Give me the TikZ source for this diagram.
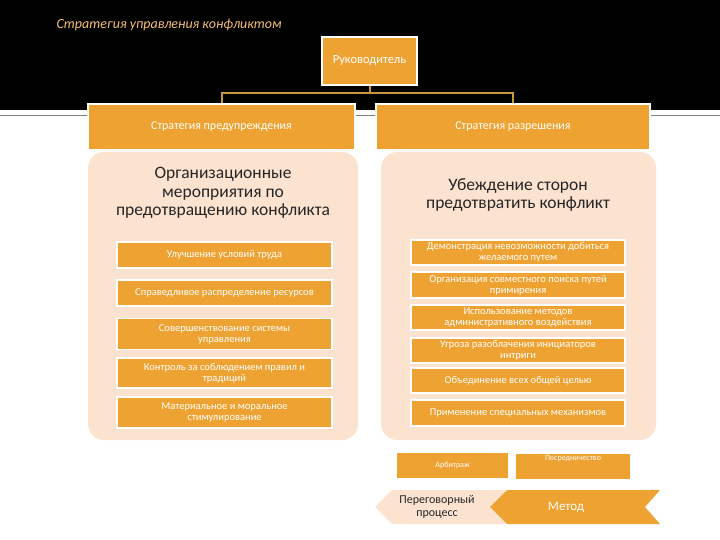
\documentclass[tikz,border=0pt]{standalone}
\usepackage{fontspec}
\setmainfont{Carlito}
\begin{document}
\begin{tikzpicture}[x=1pt,y=-1pt,
 ob/.style={fill=orB,draw=white,line width=1.5pt,text=white,align=center,font=\fontsize{12}{13}\selectfont,inner sep=1pt},
 it/.style={fill=orB,draw=white,line width=1.5pt,text=white,align=center,font=\fontsize{10.5}{11}\selectfont,inner sep=1pt},
 panel/.style={fill=peach,rounded corners=16pt},
 hd/.style={align=center,text=black!85,font=\fontsize{17.5}{18.5}\selectfont},
 con/.style={draw=tanC,line width=2pt}]
\definecolor{orB}{HTML}{EDA232}
\definecolor{peach}{HTML}{FBE3D0}
\definecolor{tanC}{HTML}{C8963C}
\useasboundingbox (0,0) rectangle (720,540);
\fill[black] (0,0) rectangle (720,110);
\draw[gray,line width=1pt] (0,116) -- (720,116);
\node[anchor=west,text=orB!70!white,font=\itshape\fontsize{14}{16}\selectfont] (t) at (53,25) {Стратегия управления конфликтом};
% panels
\path[panel] (88,152) rectangle (358,440);
\path[panel] (381,152) rectangle (656,440);
% top node
\node[ob,minimum width=95pt,minimum height=48pt,font=\fontsize{12.5}{14}\selectfont] (r) at (369.5,61) {Руководитель};
\node[ob,minimum width=267pt,minimum height=46pt] (sl) at (221.5,127) {Стратегия предупреждения};
\node[ob,minimum width=274pt,minimum height=46pt] (sr) at (513,127) {Стратегия разрешения};
\coordinate (m) at (369.5,93);
\draw[con] (r.south) -- (m) -| (sl.north);
\draw[con] (m) -| (sr.north);
% headers
\node[hd] (hl) at (223,193) {Организационные\\мероприятия по\\предотвращению конфликта};
\node[hd] (hr) at (518,195) {Убеждение сторон\\предотвратить конфликт};
% left items
\node[it,minimum width=215pt,minimum height=26pt] (l1) at (224.5,255) {Улучшение условий труда};
\node[it,minimum width=215pt,minimum height=26pt] (l2) at (224.5,293) {Справедливое распределение ресурсов};
\node[it,minimum width=215pt,minimum height=31pt] (l3) at (224.5,334) {Совершенствование системы\\управления};
\node[it,minimum width=215pt,minimum height=30pt] (l4) at (224.5,373) {Контроль за соблюдением правил и\\традиций};
\node[it,minimum width=215pt,minimum height=31pt] (l5) at (224.5,412.5) {Материальное и моральное\\стимулирование};
% right items
\node[it,minimum width=214pt,minimum height=25pt] (r1) at (518,252.5) {Демонстрация невозможности добиться\\желаемого путем};
\node[it,minimum width=214pt,minimum height=26pt] (r2) at (518,285) {Организация совместного поиска путей\\примирения};
\node[it,minimum width=214pt,minimum height=25pt] (r3) at (518,317.5) {Использование методов\\административного воздействия};
\node[it,minimum width=214pt,minimum height=25pt] (r4) at (518,350.5) {Угроза разоблачения инициаторов\\интриги};
\node[it,minimum width=214pt,minimum height=25pt] (r5) at (518,380.5) {Объединение всех общей целью};
\node[it,minimum width=214pt,minimum height=26pt] (r6) at (518,413) {Применение специальных механизмов};
% bottom
\node[it,minimum width=111pt,minimum height=25pt,font=\fontsize{8}{9}\selectfont,draw=none] (a) at (452.5,465.5) {Арбитраж};
\node[it,minimum width=114pt,minimum height=25pt,font=\fontsize{8}{9}\selectfont,draw=none,anchor=north] (p) at (573,453) {Посредничество\\[8pt]};
\fill[peach] (505,490) -- (392,490) -- (375,507) -- (392,524) -- (505,524) -- cycle;
\node[align=center,font=\fontsize{12}{13}\selectfont,text=black!85] (n) at (437,507) {Переговорный\\процесс};
\fill[orB] (660,490) -- (507,490) -- (490,507) -- (507,524) -- (660,524) -- (645,507) -- cycle;
\node[text=white,font=\fontsize{13}{15}\selectfont] (me) at (566,507) {Метод};
\end{tikzpicture}
\end{document}
